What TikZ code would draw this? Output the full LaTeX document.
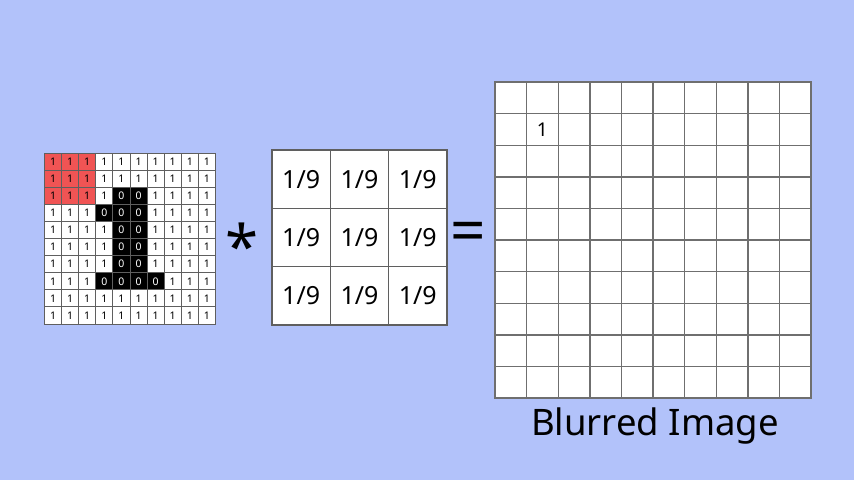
\documentclass[tikz,border=0pt]{standalone}
\usepackage{fontspec}
\setmainfont{Noto Sans}
\usepackage{tikz}
\definecolor{bgblue}{RGB}{178,194,250}
\definecolor{hotred}{RGB}{240,84,84}
\definecolor{gridgray}{RGB}{95,95,95}

\begin{document}
\begin{tikzpicture}[x=1pt, y=-1pt,
    pixel/.style={draw=gridgray, line width=0.9pt, minimum size=17.1pt, inner sep=0pt,
        font=\fontsize{10.5}{11}\selectfont},
    weight/.style={draw=gridgray, line width=1.3pt, fill=white, minimum size=58.3pt, inner sep=0pt,
        font=\fontsize{25}{26}\selectfont},
    blurcell/.style={draw=gridgray!90, line width=1.4pt, fill=white, minimum size=31.6pt, inner sep=0pt,
        font=\fontsize{19}{20}\selectfont}]
    %% Background
    \useasboundingbox[fill=bgblue] (0,0) rectangle (854,480);

    %% Input image
    \foreach \row [count=\r from 0] in {
        {1,1,1,1,1,1,1,1,1,1},
        {1,1,1,1,1,1,1,1,1,1},
        {1,1,1,1,0,0,1,1,1,1},
        {1,1,1,0,0,0,1,1,1,1},
        {1,1,1,1,0,0,1,1,1,1},
        {1,1,1,1,0,0,1,1,1,1},
        {1,1,1,1,0,0,1,1,1,1},
        {1,1,1,0,0,0,0,1,1,1},
        {1,1,1,1,1,1,1,1,1,1},
        {1,1,1,1,1,1,1,1,1,1}}{
        \foreach \v [count=\c from 0] in \row {
            \ifnum\v=0 \def\cellfill{black}\def\celltext{white}\else\def\cellfill{white}\def\celltext{black}\fi
            \ifnum\r<3 \ifnum\c<3 \def\cellfill{hotred}\fi\fi
            \node[pixel, fill=\cellfill, text=\celltext] (in-\r-\c) at (53.05+\c*17.1, 161.55+\r*17.1) {\v};
        }
    }

    %% Kernel
    \foreach \r in {0,1,2}
        \foreach \c in {0,1,2}
            \node[weight] (k-\r-\c) at (301.15+\c*58.3, 179.15+\r*58.3) {1/9};

    %% Output image
    \foreach \r in {0,...,9}
        \foreach \c in {0,...,9}
            \node[blurcell] (out-\r-\c) at (510.8+\c*31.6, 97.8+\r*31.6) {};
    \node[font=\fontsize{19}{20}\selectfont] (first) at (out-1-1) {1};

    %% Notes
    \node[font=\bfseries\fontsize{60}{60}\selectfont] (star) at (242,246) {*};
    \node[font=\bfseries\fontsize{62}{62}\selectfont] (equals) at (468,237) {=};
    \node[font=\fontsize{36.5}{37}\selectfont] (caption) at (655,426) {Blurred Image};
\end{tikzpicture}
\end{document}
